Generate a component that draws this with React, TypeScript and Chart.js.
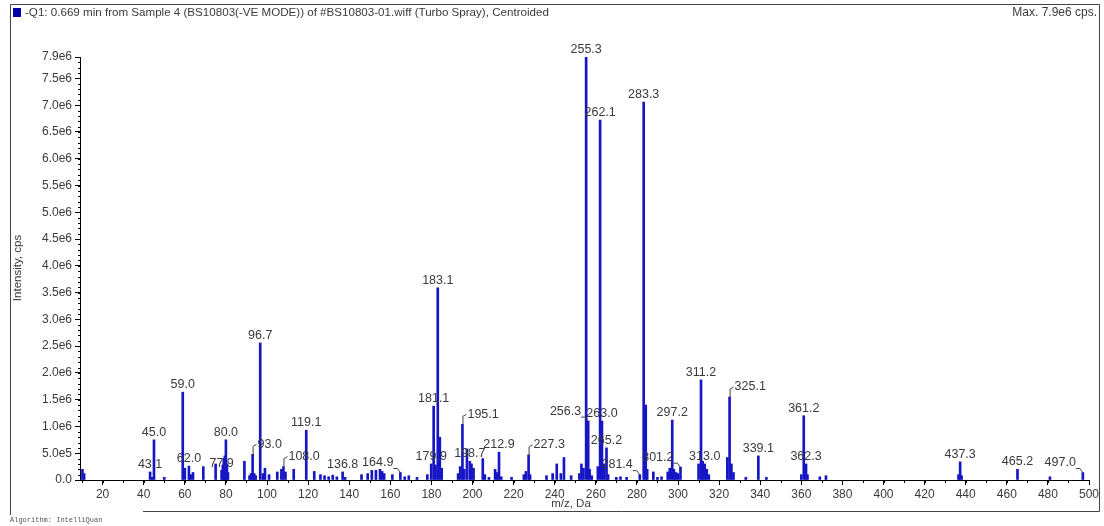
import React, { useEffect, useRef } from "react";
import { Chart, registerables } from "chart.js";

Chart.register(...registerables);

// ---------- data ----------
const peakMz = [
  10.2, 11.0, 43.1, 44.2, 45.0, 50.0, 59.0, 60.0, 62.0, 63.0, 64.0, 69.0, 75.0, 77.9, 78.5, 79.0, 79.5, 80.0, 80.5, 81.0,
  89.0, 91.5, 92.2, 93.0, 93.8, 94.5, 96.7, 98.0, 99.0, 101.0, 105.0, 107.0, 108.0, 109.0, 113.0, 119.1, 123.0, 126.0,
  128.0, 130.0, 132.0, 134.0, 136.8, 138.0, 146.0, 149.0, 151.0, 153.0, 155.0, 156.0, 157.0, 161.0, 164.9, 167.0,
  169.0, 173.0, 178.0, 179.9, 181.1, 182.0, 183.1, 184.1, 185.0, 193.0, 194.0, 195.1, 196.0, 197.3, 198.7, 199.5,
  200.5, 205.0, 206.0, 208.0, 211.0, 212.0, 212.9, 214.0, 219.0, 225.0, 226.0, 227.3, 228.0, 236.0, 239.0, 241.0,
  243.0, 244.5, 248.0, 252.0, 253.0, 254.0, 255.3, 256.3, 257.0, 258.0, 261.0, 262.1, 263.0, 264.0, 265.2, 266.0,
  270.0, 272.0, 275.0, 281.4, 283.3, 284.3, 285.0, 288.0, 290.0, 292.0, 295.0, 296.0, 297.2, 298.0, 299.0, 300.0,
  301.2, 310.0, 311.2, 312.0, 313.0, 314.0, 315.0, 324.0, 325.1, 326.0, 327.0, 333.0, 339.1, 343.0, 360.0, 361.2,
  362.3, 363.0, 369.0, 372.0, 436.5, 437.3, 438.0, 465.2, 481.0, 497.0,
];
const peakIntensity = [
  0.2e6, 0.12e6, 0.15e6, 0.05e6, 0.75e6, 0.05e6, 1.64e6, 0.22e6, 0.26e6, 0.1e6, 0.14e6, 0.25e6, 0.3e6, 0.18e6, 0.28e6, 0.4e6, 0.45e6, 0.75e6, 0.3e6, 0.14e6,
  0.35e6, 0.08e6, 0.12e6, 0.48e6, 0.12e6, 0.08e6, 2.56e6, 0.12e6, 0.22e6, 0.1e6, 0.15e6, 0.2e6, 0.25e6, 0.15e6, 0.2e6, 0.93e6, 0.16e6, 0.1e6,
  0.08e6, 0.06e6, 0.09e6, 0.06e6, 0.15e6, 0.05e6, 0.1e6, 0.12e6, 0.18e6, 0.18e6, 0.2e6, 0.16e6, 0.12e6, 0.1e6, 0.14e6, 0.06e6,
  0.08e6, 0.05e6, 0.1e6, 0.3e6, 1.38e6, 0.28e6, 3.59e6, 0.8e6, 0.22e6, 0.12e6, 0.25e6, 1.04e6, 0.2e6, 0.58e6, 0.35e6, 0.3e6,
  0.22e6, 0.4e6, 0.1e6, 0.05e6, 0.2e6, 0.14e6, 0.52e6, 0.06e6, 0.05e6, 0.1e6, 0.16e6, 0.47e6, 0.1e6, 0.08e6, 0.12e6, 0.3e6,
  0.12e6, 0.42e6, 0.08e6, 0.12e6, 0.3e6, 0.22e6, 7.9e6, 1.1e6, 0.2e6, 0.08e6, 0.25e6, 6.72e6, 1.1e6, 0.3e6, 0.6e6, 0.1e6,
  0.05e6, 0.06e6, 0.05e6, 0.1e6, 7.06e6, 1.4e6, 0.2e6, 0.15e6, 0.05e6, 0.06e6, 0.15e6, 0.22e6, 1.12e6, 0.2e6, 0.14e6, 0.12e6,
  0.24e6, 0.3e6, 1.87e6, 0.35e6, 0.3e6, 0.2e6, 0.1e6, 0.42e6, 1.55e6, 0.3e6, 0.14e6, 0.05e6, 0.45e6, 0.05e6, 0.1e6, 1.2e6,
  0.3e6, 0.1e6, 0.06e6, 0.08e6, 0.1e6, 0.34e6, 0.08e6, 0.2e6, 0.06e6, 0.14e6,
];

// annotated peaks and which side their label sits on (c = centred, r = right with leader, l = left with leader)
const labelMz = [
  43.1, 45.0, 59.0, 62.0, 77.9, 80.0, 93.0, 96.7, 108.0, 119.1, 136.8, 164.9, 179.9, 181.1, 183.1, 195.1, 198.7,
  212.9, 227.3, 255.3, 256.3, 262.1, 263.0, 265.2, 281.4, 283.3, 297.2, 301.2, 311.2, 313.0, 325.1, 339.1, 361.2,
  362.3, 437.3, 465.2, 497.0,
];
const labelSide = [
  "c", "c", "c", "c", "c", "c", "r", "c", "r", "c", "c", "l", "c", "c", "c", "r", "c",
  "c", "r", "c", "l", "c", "c", "c", "l", "c", "c", "l", "c", "c", "r", "c", "c",
  "c", "c", "c", "l",
];

const yTickValues = [0, 5e5, 1e6, 1.5e6, 2e6, 2.5e6, 3e6, 3.5e6, 4e6, 4.5e6, 5e6, 5.5e6, 6e6, 6.5e6, 7e6, 7.5e6, 7.9e6];
const xTickValues = [20, 40, 60, 80, 100, 120, 140, 160, 180, 200, 220, 240, 260, 280, 300, 320, 340, 360, 380, 400, 420, 440, 460, 480, 500];

const titleText = "-Q1: 0.669 min from Sample 4 (BS10803(-VE MODE)) of #BS10803-01.wiff (Turbo Spray), Centroided";
const maxText = "Max. 7.9e6 cps.";
const xTitle = "m/z, Da";
const yTitle = "Intensity, cps";
const footerText = "Algorithm: IntelliQuan";

// ---------- styles ----------
const FONT = '"Liberation Sans", Arial, sans-serif';
const TEXT = "#3a3a3a";
const BAR = "#1616c4";

function fmtY(v: number): string {
  if (v === 0) return "0.0";
  if (v < 1e6) return (v / 1e5).toFixed(1) + "e5";
  return (v / 1e6).toFixed(1) + "e6";
}

const decor = {
  id: "decor",
  afterDraw(chart: any) {
    const ctx = chart.ctx as CanvasRenderingContext2D;
    const xs = chart.scales.x;
    const ys = chart.scales.y;
    const area = chart.chartArea;
    ctx.save();

    // frame
    ctx.strokeStyle = "#444";
    ctx.lineWidth = 1;
    ctx.beginPath();
    ctx.moveTo(10.5, 515);
    ctx.lineTo(10.5, 4.5);
    ctx.lineTo(1099.5, 4.5);
    ctx.lineTo(1099.5, 511.5);
    ctx.lineTo(143, 511.5);
    ctx.stroke();

    // title
    ctx.fillStyle = "#0000a8";
    ctx.fillRect(13, 8, 8, 9);
    ctx.font = `11.6px ${FONT}`;
    ctx.fillStyle = TEXT;
    ctx.textBaseline = "middle";
    ctx.textAlign = "left";
    ctx.fillText(titleText, 25, 13);
    ctx.textAlign = "right";
    ctx.font = `12px ${FONT}`;
    ctx.fillText(maxText, 1097, 13);

    // axis titles
    ctx.font = `11.5px ${FONT}`;
    ctx.textAlign = "center";
    ctx.fillText(xTitle, 571, 504);
    ctx.save();
    ctx.translate(18, 268);
    ctx.rotate(-Math.PI / 2);
    ctx.fillText(yTitle, 0, 0);
    ctx.restore();

    // footer
    ctx.font = `7px "Liberation Mono", monospace`;
    ctx.fillStyle = "#555";
    ctx.textAlign = "left";
    ctx.fillText(footerText, 10, 520);

    // minor ticks
    ctx.strokeStyle = "#000";
    ctx.beginPath();
    for (let v = 0; v <= 7.9e6; v += 1e5) {
      const y = Math.round(ys.getPixelForValue(v)) + 0.5;
      ctx.moveTo(area.left - 2, y);
      ctx.lineTo(area.left, y);
    }
    for (let m = 10; m <= 500; m += 10) {
      const x = Math.round(xs.getPixelForValue(m)) + 0.5;
      ctx.moveTo(x, area.bottom);
      ctx.lineTo(x, area.bottom + 3);
    }
    ctx.stroke();

    // peak labels
    ctx.font = `12.5px ${FONT}`;
    ctx.fillStyle = TEXT;
    ctx.strokeStyle = "#444";
    labelMz.forEach((mz, i) => {
      const idx = peakMz.indexOf(mz);
      if (idx < 0) return;
      const px = xs.getPixelForValue(mz);
      const top = ys.getPixelForValue(peakIntensity[idx]);
      const text = mz.toFixed(1);
      const side = labelSide[i];
      if (side === "c") {
        ctx.textAlign = "center";
        ctx.textBaseline = "bottom";
        ctx.fillText(text, px, top - 1);
      } else if (side === "r") {
        const mid = top - 10;
        ctx.beginPath();
        ctx.moveTo(px + 0.5, top);
        ctx.lineTo(px + 0.5, mid + 2);
        ctx.lineTo(px + 4, mid);
        ctx.stroke();
        ctx.textAlign = "left";
        ctx.textBaseline = "middle";
        ctx.fillText(text, px + 5, mid);
      } else {
        const mid = top - 10;
        ctx.beginPath();
        ctx.moveTo(px - 7, mid + 6);
        ctx.lineTo(px - 3, mid + 6);
        ctx.lineTo(px, top);
        ctx.stroke();
        ctx.textAlign = "right";
        ctx.textBaseline = "middle";
        ctx.fillText(text, px - 7, mid);
      }
    });

    ctx.restore();
  },
};

export default function App() {
  const ref = useRef<HTMLCanvasElement | null>(null);

  useEffect(() => {
    if (!ref.current) return;
    const chart = new Chart(ref.current, {
      type: "bar",
      data: {
        datasets: [
          {
            data: peakMz.map((m, i) => ({ x: m, y: peakIntensity[i] })),
            backgroundColor: BAR,
            borderWidth: 0,
            barThickness: 2,
          } as any,
        ],
      },
      options: {
        animation: false,
        responsive: true,
        maintainAspectRatio: false,
        layout: { padding: { left: 10, right: 15, top: 57, bottom: 18 } },
        plugins: { legend: { display: false }, tooltip: { enabled: false }, title: { display: false } },
        scales: {
          x: {
            type: "linear",
            min: 9,
            max: 500,
            offset: false,
            afterBuildTicks: (s: any) => {
              s.ticks = xTickValues.map((v) => ({ value: v }));
            },
            afterFit: (s: any) => {
              s.height = 28;
            },
            ticks: {
              autoSkip: false,
              maxRotation: 0,
              padding: 2,
              color: TEXT,
              font: { family: FONT, size: 12 },
              callback: (v: any) => String(v),
            },
            grid: { display: true, drawOnChartArea: false, drawTicks: true, tickLength: 5, color: "#000", offset: false },
            border: { display: true, color: "#000" },
          },
          y: {
            type: "linear",
            min: 0,
            max: 7.9e6,
            afterBuildTicks: (s: any) => {
              s.ticks = yTickValues.map((v) => ({ value: v }));
            },
            afterFit: (s: any) => {
              s.width = 70;
            },
            ticks: {
              autoSkip: false,
              padding: 3,
              color: TEXT,
              font: { family: FONT, size: 12 },
              callback: (v: any) => fmtY(Number(v)),
            },
            grid: { display: true, drawOnChartArea: false, drawTicks: true, tickLength: 5, color: "#000" },
            border: { display: true, color: "#000" },
          },
        },
      },
      plugins: [decor],
    });
    return () => chart.destroy();
  }, []);

  return (
    <div style={{ position: "fixed", left: 0, top: 0, width: 1104, height: 526, background: "#fff" }}>
      <canvas ref={ref} />
    </div>
  );
}
